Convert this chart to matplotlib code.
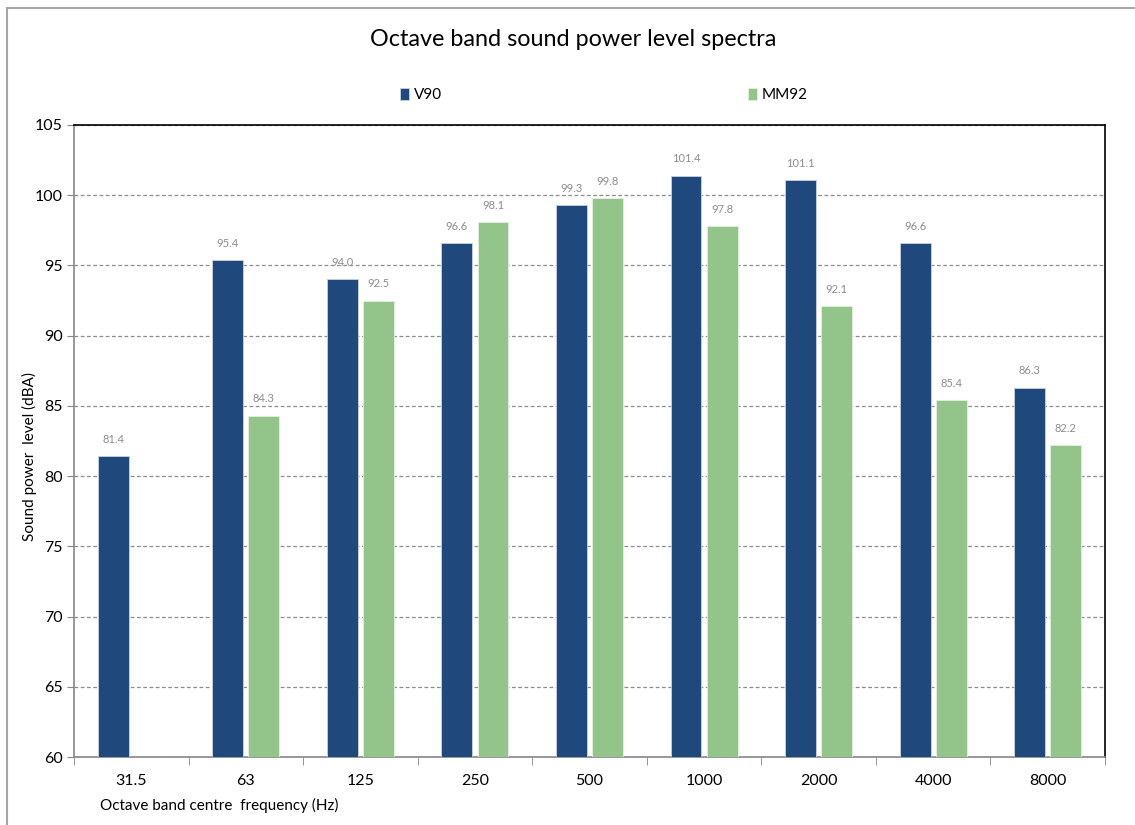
import numpy as np
import matplotlib.pyplot as plt
from matplotlib.patches import Rectangle

plt.rcParams['font.family'] = ['Lato', 'DejaVu Sans']

# data
freqs = ['31.5', '63', '125', '250', '500', '1000', '2000', '4000', '8000']
v90 = [81.4, 95.4, 94.0, 96.6, 99.3, 101.4, 101.1, 96.6, 86.3]
mm92 = [np.nan, 84.3, 92.5, 98.1, 99.8, 97.8, 92.1, 85.4, 82.2]

blue = '#1f497d'
green = '#93c58a'

fig = plt.figure(figsize=(11.35, 8.25), dpi=100)
ax = fig.add_axes([74 / 1135, 1 - 757 / 825, (1105 - 74) / 1135, (757 - 125) / 825])

# chart area frame
fig.patches.append(Rectangle((7 / 1135, -0.1), 1.2, 1 - 8 / 825 + 0.1,
                             transform=fig.transFigure, fill=False,
                             edgecolor='#a6a6a6', lw=1.5))

x = np.arange(len(freqs))
w = 0.27
gap = 0.045
b1 = ax.bar(x - w / 2 - gap / 2, v90, w, color=blue, edgecolor='#c9d3e0', lw=0.6, label='V90', zorder=3)
b2 = ax.bar(x + w / 2 + gap / 2, mm92, w, color=green, edgecolor='#e4f0e1', lw=0.6, label='MM92', zorder=3)

for bars, vals in ((b1, v90), (b2, mm92)):
    for r, v in zip(bars, vals):
        if np.isnan(v):
            continue
        ax.text(r.get_x() + r.get_width() / 2, v + 0.8, f'{v:.1f}', ha='center', va='bottom',
                fontsize=8, color='#8c8c8c', zorder=4)

ax.set_ylim(60, 105)
ax.set_xlim(-0.5, len(freqs) - 0.5)
ax.set_yticks(np.arange(60, 106, 5))
ax.yaxis.grid(True, linestyle=(0, (3, 2)), color='#8c8c8c', lw=0.9, zorder=0)
ax.set_axisbelow(True)

ax.set_xticks(x)
ax.set_xticklabels(freqs, fontsize=11.5)
ax.set_xticks(np.arange(-0.5, len(freqs), 1), minor=True)
ax.tick_params(axis='x', which='major', length=0, pad=12)
ax.tick_params(axis='x', which='minor', length=6, color='#868686', direction='out')
ax.tick_params(axis='y', labelsize=11.5, length=5, color='#868686', pad=3)

for s in ('left', 'bottom'):
    ax.spines[s].set_color('#868686')
    ax.spines[s].set_linewidth(1.2)
for s in ('top', 'right'):
    ax.spines[s].set_color('black')
    ax.spines[s].set_linewidth(1.2)

ax.set_ylabel('Sound power  level (dBA)', fontsize=11, va='center')
ax.yaxis.set_label_coords(-0.043, 0.476)
fig.text(100 / 1135, 1 - 805 / 825, 'Octave band centre  frequency (Hz)', fontsize=11, va='center')

fig.text(0.505, 1 - 40 / 825, 'Octave band sound power level spectra', fontsize=16.8, ha='center', va='center')

leg = fig.legend(handles=[b1, b2], loc='center', bbox_to_anchor=(0.532, 1 - 95 / 825), ncol=2,
                 frameon=False, fontsize=11, handlelength=0.6, handleheight=0.9, handletextpad=0.3,
                 columnspacing=20)

plt.savefig('out.png', dpi=100)
